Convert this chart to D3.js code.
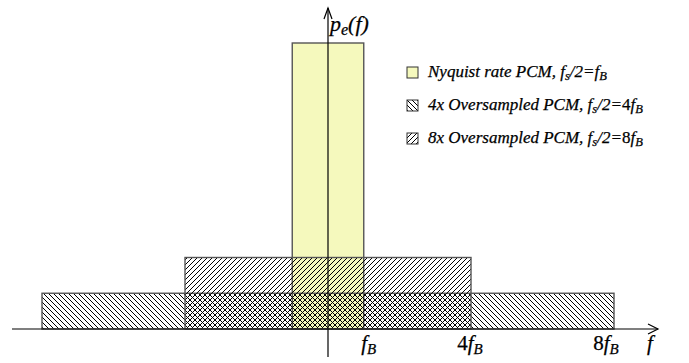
<!DOCTYPE html>
<html>
<head>
<meta charset="utf-8">
<script src="https://cdn.jsdelivr.net/npm/d3@7"></script>
<style>
  body { margin: 0; background: #fff; }
  svg text { font-family: "Liberation Serif", "Times New Roman", serif; font-style: italic; fill: #000; stroke: #000; stroke-width: 0.25; }
</style>
</head>
<body>
<svg id="chart" width="689" height="363"></svg>
<script>
// noise power density for each scheme (relative units), half-band in multiples of fB
const series = ["Nyquist rate PCM", "4x Oversampled PCM", "8x Oversampled PCM"];
const halfBand = [1, 8, 4];
const density = [8, 1, 2];
const fills = ["yellow", "back", "fwd"];
const legendRatio = ["f_B", "4f_B", "8f_B"];
const legendFill = ["yellow", "back", "fwd"];
const tickValues = [1, 4, 8];
const tickLabels = [["", "f"], ["4", "f"], ["8", "f"]];

const svg = d3.select("#chart");
const x = d3.scaleLinear().domain([-8, 8]).range([42, 614]);
const y = d3.scaleLinear().domain([0, 8]).range([329, 43]);

const defs = svg.append("defs");
function hatch(id, d) {
  const p = defs.append("pattern").attr("id", id)
    .attr("patternUnits", "userSpaceOnUse").attr("width", 5).attr("height", 5);
  p.append("path").attr("d", d).attr("stroke", "#000").attr("stroke-width", 1.2)
    .attr("fill", "none").attr("shape-rendering", "crispEdges");
}
hatch("back", "M-1,-1 L6,6 M-1,4 L1,6 M4,-1 L6,1");
hatch("fwd", "M-1,6 L6,-1 M-1,1 L1,-1 M4,6 L6,4");
const fillOf = k => k === "yellow" ? "#f5f9bd" : `url(#${k})`;

// bars
svg.append("g").selectAll("rect")
  .data(series.map((s, i) => ({ s, hb: halfBand[i], h: density[i], f: fills[i] })))
  .join("rect")
  .attr("x", d => x(-d.hb))
  .attr("y", d => y(d.h))
  .attr("width", d => x(d.hb) - x(-d.hb))
  .attr("height", d => y(0) - y(d.h))
  .attr("fill", d => fillOf(d.f))
  .attr("stroke", "#555")
  .attr("stroke-width", 1.4);

// axes
const ax = svg.append("g").attr("stroke", "#000").attr("fill", "none").attr("stroke-width", 1.2);
ax.append("line").attr("x1", 12).attr("x2", 658).attr("y1", y(0)).attr("y2", y(0));
ax.append("path").attr("d", `M648,${y(0) - 5} L658,${y(0)} L648,${y(0) + 5}`);
ax.append("line").attr("x1", x(0)).attr("x2", x(0)).attr("y1", 8).attr("y2", 357);
ax.append("path").attr("d", `M${x(0) - 4},19 L${x(0)},8 L${x(0) + 4},19`);

// tick labels
const tickDx = [5, -1, -8];
const tl = svg.append("g").selectAll("text")
  .data(tickValues.map((v, i) => ({ v, l: tickLabels[i], dx: tickDx[i] })))
  .join("text")
  .attr("x", d => x(d.v) + d.dx)
  .attr("y", 350)
  .attr("text-anchor", "middle")
  .attr("font-size", 21);
tl.append("tspan").style("font-style", "normal").text(d => d.l[0]);
tl.append("tspan").text(d => d.l[1]);
tl.append("tspan").attr("font-size", 15).attr("dy", 4).text("B");

svg.append("text").attr("x", 650).attr("y", 350).attr("text-anchor", "middle")
  .attr("font-size", 21).text("f");

// y label
const yl = svg.append("text").attr("x", 330).attr("y", 31).attr("font-size", 22);
yl.append("tspan").text("p");
yl.append("tspan").attr("font-size", 16).attr("dy", 4).text("e");
yl.append("tspan").attr("dy", -4).text("(f)");

// legend
const lg = svg.append("g").selectAll("g")
  .data(series.map((s, i) => ({ s, r: legendRatio[i], f: legendFill[i] })))
  .join("g")
  .attr("transform", (d, i) => `translate(407,${67 + i * 33})`);
lg.append("rect").attr("width", 11).attr("height", 11)
  .attr("fill", d => fillOf(d.f)).attr("stroke", "#333").attr("stroke-width", 1);
const lt = lg.append("text").attr("x", 21).attr("y", 10).attr("font-size", 17);
lt.append("tspan").text(d => d.s + ", ");
lt.append("tspan").text("f");
lt.append("tspan").attr("font-size", 12.5).attr("dy", 3).text("s");
lt.append("tspan").attr("dy", -3).text("/2=");
lt.append("tspan").style("font-style", "normal").text(d => d.r.split("f")[0]);
lt.append("tspan").text("f");
lt.append("tspan").attr("font-size", 12.5).attr("dy", 3).text("B");
</script>
</body>
</html>
